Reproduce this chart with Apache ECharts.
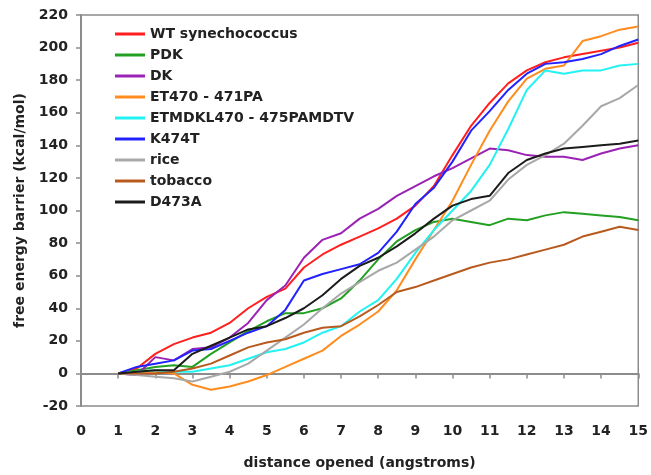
<!DOCTYPE html>
<html>
<head>
<meta charset="utf-8">
<script src="https://cdn.jsdelivr.net/npm/echarts@6/dist/echarts.min.js"></script>
<style>
  html, body { margin: 0; padding: 0; background: #fff; }
  #chart { width: 651px; height: 475px; }
</style>
</head>
<body>
<div id="chart"></div>
<script>
// distance opened (angstroms), one reading every half angstrom
var xs = [1, 1.5, 2, 2.5, 3, 3.5, 4, 4.5, 5, 5.5, 6, 6.5, 7, 7.5, 8, 8.5, 9, 9.5, 10, 10.5, 11, 11.5, 12, 12.5, 13, 13.5, 14, 14.5, 15];

var names = ['WT synechococcus', 'PDK', 'DK', 'ET470 - 471PA', 'ETMDKL470 - 475PAMDTV', 'K474T', 'rice', 'tobacco', 'D473A'];
var colors = ['#ff1f1f', '#22a022', '#9a22b4', '#ff8c1e', '#22f2f2', '#2222ff', '#a8a8a8', '#b85a1e', '#1c1c1c'];

var wt      = [0, 3, 12, 18, 22, 25, 31, 40, 47, 52, 65, 73, 79, 84, 89, 95, 103, 115, 134, 152, 166, 178, 186, 191, 194, 196, 198, 200, 203];
var pdk     = [0, 2, 4, 5, 4, 12, 19, 26, 32, 37, 37, 40, 46, 57, 70, 81, 88, 93, 95, 93, 91, 95, 94, 97, 99, 98, 97, 96, 94];
var dk      = [0, -1, 10, 8, 15, 16, 22, 31, 45, 54, 71, 82, 86, 95, 101, 109, 115, 121, 126, 132, 138, 137, 134, 133, 133, 131, 135, 138, 140];
var et470   = [0, 1, 1, 0, -7, -10, -8, -5, -1, 4, 9, 14, 23, 30, 38, 51, 70, 88, 106, 128, 149, 167, 181, 187, 189, 204, 207, 211, 213];
var etmdkl  = [0, 1, 2, 1, 1, 3, 5, 9, 13, 15, 19, 25, 29, 38, 45, 58, 74, 88, 100, 112, 128, 150, 174, 186, 184, 186, 186, 189, 190];
var k474t   = [0, 4, 6, 8, 14, 15, 20, 25, 29, 39, 57, 61, 64, 67, 74, 87, 104, 114, 130, 149, 161, 174, 184, 190, 191, 193, 196, 201, 205];
var rice    = [0, -1, -2, -3, -5, -2, 1, 6, 14, 22, 30, 40, 49, 56, 63, 68, 76, 84, 94, 100, 106, 119, 128, 134, 141, 152, 164, 169, 177];
var tobacco = [0, 0, 0, 1, 3, 6, 11, 16, 19, 21, 25, 28, 29, 35, 42, 50, 53, 57, 61, 65, 68, 70, 73, 76, 79, 84, 87, 90, 88];
var d473a   = [0, 1, 2, 2, 12, 17, 22, 27, 29, 34, 40, 48, 58, 66, 71, 78, 86, 95, 103, 107, 109, 123, 131, 135, 138, 139, 140, 141, 143];

var allData = [wt, pdk, dk, et470, etmdkl, k474t, rice, tobacco, d473a];

var font = 'DejaVu Sans';
var axisGray = '#8c8c8c';

var series = allData.map(function (vals, i) {
    return {
        name: names[i],
        type: 'line',
        symbol: 'none',
        showSymbol: false,
        lineStyle: { width: 2, color: colors[i] },
        itemStyle: { color: colors[i] },
        data: xs.map(function (x, j) { return [x, vals[j]]; })
    };
});

var chart = echarts.init(document.getElementById('chart'));
chart.setOption({
    animation: false,
    backgroundColor: '#fff',
    grid: {
        left: 81, right: 8, top: 15, bottom: 69,
        show: true, borderColor: axisGray, borderWidth: 1.5
    },
    legend: {
        orient: 'vertical',
        left: 110,
        top: 22,
        icon: 'rect',
        itemWidth: 30,
        itemHeight: 3,
        itemGap: 7,
        textStyle: { fontFamily: font, fontWeight: 'bold', fontSize: 14, color: '#222' },
        data: names
    },
    xAxis: {
        type: 'value',
        min: 0, max: 15, interval: 1,
        name: 'distance opened (angstroms)',
        nameLocation: 'middle',
        nameGap: 50,
        nameTextStyle: { fontFamily: font, fontWeight: 'bold', fontSize: 14, color: '#222' },
        axisLine: { lineStyle: { color: axisGray, width: 2 } },
        axisTick: { length: 5, lineStyle: { color: axisGray, width: 1.5 } },
        axisLabel: { margin: 18, fontFamily: font, fontWeight: 'bold', fontSize: 14, color: '#222' },
        splitLine: { show: false }
    },
    yAxis: {
        type: 'value',
        min: -20, max: 220, interval: 20,
        name: 'free energy barrier (kcal/mol)',
        nameLocation: 'middle',
        nameGap: 54,
        nameTextStyle: { fontFamily: font, fontWeight: 'bold', fontSize: 14, color: '#222' },
        axisLine: { onZero: false, lineStyle: { color: axisGray, width: 2 } },
        axisTick: { length: 5, lineStyle: { color: axisGray, width: 1.5 } },
        axisLabel: { margin: 13, fontFamily: font, fontWeight: 'bold', fontSize: 14, color: '#222' },
        splitLine: { show: false }
    },
    series: series
});
</script>
</body>
</html>
